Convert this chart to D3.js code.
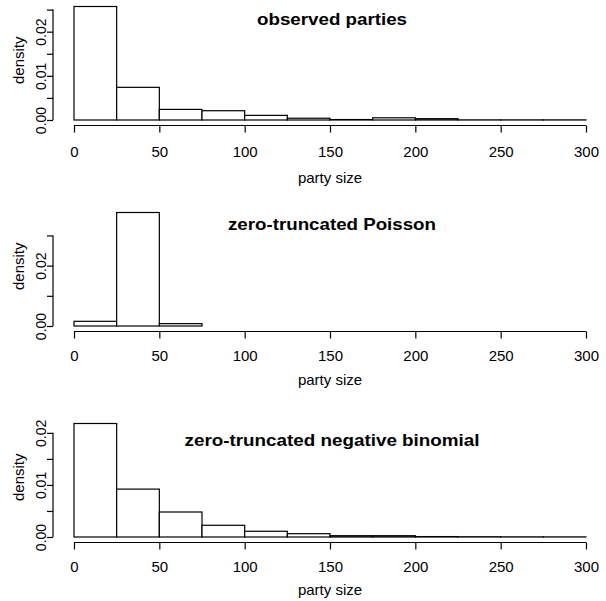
<!DOCTYPE html>
<html>
<head>
<meta charset="utf-8">
<script src="https://cdn.jsdelivr.net/npm/d3@7/dist/d3.min.js"></script>
<style>
  html, body { margin: 0; padding: 0; background: #fff; }
  svg text { font-family: "Liberation Sans", Arial, Helvetica, sans-serif; fill: #000; }
</style>
</head>
<body>
<svg id="chart" width="606" height="601"></svg>
<script>
// ---- data ----
const binEdges = [0, 25, 50, 75, 100, 125, 150, 175, 200, 225, 250, 275, 300];
const observedDensity = [0.0257, 0.0074, 0.0024, 0.0021, 0.00105, 0.0004, 0.0001, 0.0005, 0.0003, 0.00003, 0.00003, 0.00003];
const poissonDensity = [0.00155, 0.0376, 0.00078, 0, 0, 0, 0, 0, 0, 0, 0, 0];
const negbinDensity = [0.0218, 0.0092, 0.0048, 0.00225, 0.0011, 0.00064, 0.00025, 0.00025, 0.00008, 0.00005, 0.00003, 0.00002];
const panelTitles = ["observed parties", "zero-truncated Poisson", "zero-truncated negative binomial"];
const xTickValues = [0, 50, 100, 150, 200, 250, 300];
const yTicks1 = [0, 0.005, 0.01, 0.015, 0.02, 0.025];
const yTicks2 = [0, 0.01, 0.02, 0.03];
const yTicks3 = [0, 0.005, 0.01, 0.015, 0.02];
const yLabels1 = ["0.00", "", "0.01", "", "0.02", ""];
const yLabels2 = ["0.00", "", "0.02", ""];
const yLabels3 = ["0.00", "", "0.01", "", "0.02"];
const xLabel = "party size";
const yLabel = "density";

// ---- layout ----
const panels = [
  { values: observedDensity, title: panelTitles[0], yTicks: yTicks1, yLabels: yLabels1,
    base: 120, axisY: 125.5, titleY: 24.5, titleLen: 150, xLabY: 177, tickPad: 14 },
  { values: poissonDensity, title: panelTitles[1], yTicks: yTicks2, yLabels: yLabels2,
    base: 326, axisY: 331.5, titleY: 230, titleLen: 208, xLabY: 379.5, tickPad: 12 },
  { values: negbinDensity, title: panelTitles[2], yTicks: yTicks3, yLabels: yLabels3,
    base: 537, axisY: 542.5, titleY: 446, titleLen: 295, xLabY: 589, tickPad: 12 }
];
const plotH = 113.5;
const yAxisX = 53;
const svg = d3.select("#chart");
const x = d3.scaleLinear().domain([0, 300]).range([74, 586]);

panels.forEach(p => {
  const y = d3.scaleLinear().domain([0, d3.max(p.values)]).range([p.base, p.base - plotH]);
  const g = svg.append("g");
  const bins = p.values.map((v, i) => ({ x0: binEdges[i], x1: binEdges[i + 1], v }));

  g.selectAll("rect.bar").data(bins).join("rect")
    .attr("class", "bar")
    .attr("x", d => x(d.x0))
    .attr("width", d => x(d.x1) - x(d.x0))
    .attr("y", d => y(d.v))
    .attr("height", d => y(0) - y(d.v))
    .attr("fill", "#fff")
    .attr("stroke", "#000")
    .attr("stroke-width", 1.2);

  // x axis
  const xa = g.append("g").attr("transform", `translate(0,${p.axisY})`)
    .call(d3.axisBottom(x).tickValues(xTickValues).tickSize(7).tickPadding(p.tickPad).tickFormat(d3.format("d")));
  xa.select(".domain").attr("d", `M${x(0)},0H${x(300)}`).attr("stroke", "#000").attr("stroke-width", 1.2);
  xa.selectAll(".tick line").attr("stroke", "#000").attr("stroke-width", 1.2);
  xa.selectAll(".tick text").attr("font-size", 15).attr("font-family", null);

  // y axis
  const lastTick = p.yTicks[p.yTicks.length - 1];
  const ya = g.append("g").attr("transform", `translate(${yAxisX},0)`)
    .call(d3.axisLeft(y).tickValues(p.yTicks).tickSize(6).tickFormat((d, i) => p.yLabels[i]));
  ya.select(".domain").attr("d", `M0,${y(0)}V${y(lastTick)}`).attr("stroke", "#000").attr("stroke-width", 1.2);
  ya.selectAll(".tick line").attr("stroke", "#000").attr("stroke-width", 1.2);
  ya.selectAll(".tick text")
    .attr("font-size", 14).attr("font-family", null)
    .attr("x", null).attr("dy", null)
    .attr("text-anchor", "middle")
    .attr("dominant-baseline", "central")
    .attr("transform", `translate(-12,0) rotate(-90)`);

  // labels
  g.append("text")
    .attr("x", (x(0) + x(300)) / 2)
    .attr("y", p.xLabY)
    .attr("text-anchor", "middle")
    .attr("dominant-baseline", "central")
    .attr("font-size", 15)
    .text(xLabel);

  g.append("text")
    .attr("transform", `translate(18,${p.base - plotH / 2 - 3}) rotate(-90)`)
    .attr("text-anchor", "middle")
    .attr("dominant-baseline", "central")
    .attr("font-size", 15)
    .text(yLabel);

  g.append("text")
    .attr("x", (x(0) + x(300)) / 2 + 2)
    .attr("y", p.titleY)
    .attr("text-anchor", "middle")
    .attr("font-size", 16.5)
    .attr("font-weight", "bold")
    .attr("textLength", p.titleLen)
    .attr("lengthAdjust", "spacingAndGlyphs")
    .text(p.title);
});
</script>
</body>
</html>
